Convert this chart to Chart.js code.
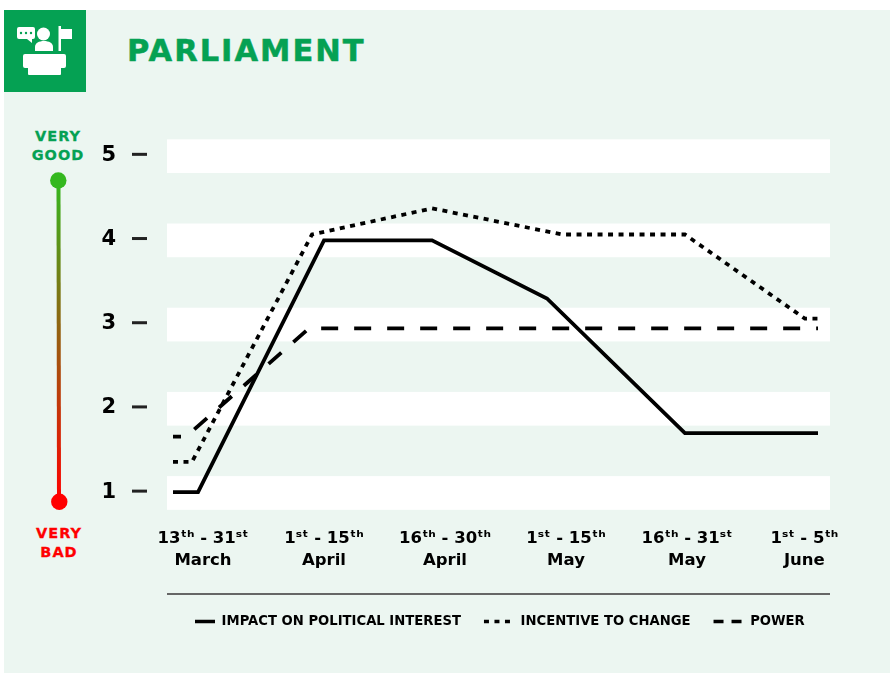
<!DOCTYPE html>
<html>
<head>
<meta charset="utf-8">
<title>Parliament</title>
<script src="https://cdn.jsdelivr.net/npm/chart.js@4"></script>
<style>
  html, body { margin: 0; background: #fff; }
  #page { position: relative; width: 890px; height: 673px; overflow: hidden; font-family: "DejaVu Sans", sans-serif; }
  #panel { position: absolute; left: 4px; top: 10px; right: 0; bottom: 0; background: #ecf6f1; }
  #decor { position: absolute; left: 0; top: 0; }
  #chart { position: absolute; left: 0; top: 0; }
  h1 { position: absolute; left: 127px; top: 33px; margin: 0; font-size: 30.5px; line-height: 36px; letter-spacing: 2px; color: #05a153; -webkit-text-stroke: 0.5px #05a153; }
  .end { position: absolute; width: 80px; text-align: center; font-weight: bold; font-size: 14.5px; line-height: 19px; letter-spacing: 1px; -webkit-text-stroke: 0.3px currentColor; }
</style>
</head>
<body>
<div id="page">
  <div id="panel"></div>
  <svg id="decor" width="890" height="673">
    <defs>
      <linearGradient id="scaleLine" x1="0" y1="180" x2="0" y2="501" gradientUnits="userSpaceOnUse">
        <stop offset="0" stop-color="#34b81f"/>
        <stop offset="1" stop-color="#ff0000"/>
      </linearGradient>
    </defs>
    <!-- speaker at a podium -->
    <rect x="4" y="10" width="82" height="82" fill="#05a153"/>
    <g fill="#fff">
      <path d="M19 27h14a2 2 0 0 1 2 2v8a2 2 0 0 1-2 2h-1v4l-5-4h-8a2 2 0 0 1-2-2v-8a2 2 0 0 1 2-2z"/>
      <circle cx="43.5" cy="34" r="6.5"/>
      <path d="M35 51v-4c0-4 4-6 9-6s9 2 9 6v4z"/>
      <rect x="58.5" y="26" width="2.5" height="25"/>
      <path d="M61 29h11v10h-11z"/>
      <rect x="23" y="54" width="43" height="14" rx="2"/>
      <rect x="28" y="67" width="33" height="8" rx="1"/>
    </g>
    <g fill="#05a153">
      <circle cx="21" cy="33" r="1.2"/><circle cx="26" cy="33" r="1.2"/><circle cx="31" cy="33" r="1.2"/>
    </g>
    <!-- very good / very bad scale -->
    <path d="M58.5 180L59 501" stroke="url(#scaleLine)" stroke-width="4" fill="none"/>
    <circle cx="58.3" cy="180.5" r="8.2" fill="#34b81f"/>
    <circle cx="59.3" cy="501.7" r="8.2" fill="#ff0000"/>
    <!-- legend rule -->
    <rect x="167" y="593" width="663" height="2" fill="#666"/>
  </svg>
  <h1>PARLIAMENT</h1>
  <div class="end" style="left:18px; top:127px; color:#05a153">VERY<br>GOOD</div>
  <div class="end" style="left:19px; top:524px; color:#ff0000">VERY<br>BAD</div>
  <canvas id="chart" width="890" height="673"></canvas>
</div>
<script>
// x runs in period slots: 0 is the first date range, 1 the next, and so on
const periodLabels = [
    ['13ᵗʰ - 31ˢᵗ', 'March'],
    ['1ˢᵗ - 15ᵗʰ', 'April'],
    ['16ᵗʰ - 30ᵗʰ', 'April'],
    ['1ˢᵗ - 15ᵗʰ', 'May'],
    ['16ᵗʰ - 31ˢᵗ', 'May'],
    ['1ˢᵗ - 5ᵗʰ', 'June']
];
const periodSlots = [0, 1, 2, 3, 4, 4.97];
const scoreTicks = [1, 2, 3, 4, 5];

const impactX = [-0.248, -0.041, 1, 1.893, 2.843, 3.983, 5.083];
const impactY = [1, 1, 3.99, 3.99, 3.3, 1.7, 1.7];

const incentiveX = [-0.248, -0.091, 0.901, 1.893, 2.967, 3.983, 4.975, 5.083];
const incentiveY = [1.36, 1.36, 4.06, 4.37, 4.06, 4.06, 3.06, 3.06];

const powerX = [-0.248, -0.14, 0.876, 5.083];
const powerY = [1.66, 1.66, 2.945, 2.945];

const bandFrom = [0.79, 1.79, 2.79, 3.79, 4.79];
const bandTo = [1.19, 2.19, 3.19, 4.19, 5.19];

const seriesNames = ['IMPACT ON POLITICAL INTEREST', 'INCENTIVE TO CHANGE', 'POWER'];
const legendDashes = [[20, 100], [5, 5.5], [10, 8, 10, 100]];
const legendDashOffsets = [-10, 0, 0];

function toPoints(xs, ys) {
    return xs.map((x, i) => ({ x: x, y: ys[i] }));
}

const whiteBands = {
    id: 'whiteBands',
    // score labels are clipped to the axis box, so widen it past the layout padding
    afterLayout(chart) {
        chart.scales.y.left = 0;
    },
    beforeDatasetsDraw(chart) {
        const { ctx, chartArea, scales } = chart;
        ctx.save();
        ctx.fillStyle = '#fff';
        bandFrom.forEach((from, i) => {
            const top = scales.y.getPixelForValue(bandTo[i]);
            const bottom = scales.y.getPixelForValue(from);
            ctx.fillRect(chartArea.left, top, chartArea.width, bottom - top);
        });
        ctx.restore();
    }
};

// short dashes between the score labels and the bands
const scoreDashes = {
    id: 'scoreDashes',
    afterDraw(chart) {
        const { ctx, chartArea, scales } = chart;
        ctx.save();
        ctx.fillStyle = '#222';
        scoreTicks.forEach(v => {
            const y = scales.y.getPixelForValue(v);
            ctx.fillRect(chartArea.left - 35, y - 2.5, 15, 3);
        });
        ctx.restore();
    }
};

const lineStyle = { borderColor: '#000', borderWidth: 3.8, pointRadius: 0, tension: 0, borderJoinStyle: 'miter' };

new Chart(document.getElementById('chart'), {
    type: 'line',
    data: {
        datasets: [
            { ...lineStyle, label: seriesNames[0], data: toPoints(impactX, impactY) },
            { ...lineStyle, label: seriesNames[1], data: toPoints(incentiveX, incentiveY), borderDash: [5, 5.5] },
            { ...lineStyle, label: seriesNames[2], data: toPoints(powerX, powerY), borderDash: [17, 16], borderDashOffset: 9 }
        ]
    },
    options: {
        responsive: false,
        animation: false,
        // the left padding also sets where the legend row starts
        layout: { padding: { top: 139, right: 60, bottom: 35, left: 162 } },
        scales: {
            x: {
                type: 'linear',
                min: -0.2975,
                max: 5.182,
                afterFit(scale) { scale.height = 82; },
                afterBuildTicks(scale) { scale.ticks = periodSlots.map(v => ({ value: v })); },
                grid: { display: false },
                border: { display: false },
                ticks: {
                    autoSkip: false,
                    maxRotation: 0,
                    padding: 10,
                    color: '#000',
                    font: { family: 'DejaVu Sans', weight: 'bold', size: 16.5, lineHeight: 1.35 },
                    callback: (value, i) => periodLabels[i]
                }
            },
            y: {
                min: 0.79,
                max: 5.194,
                afterFit(scale) { scale.width = 5; },
                afterBuildTicks(scale) { scale.ticks = scoreTicks.map(v => ({ value: v })); },
                grid: { display: false, drawTicks: false },
                border: { display: false },
                ticks: {
                    padding: 51,
                    color: '#000',
                    font: { family: 'DejaVu Sans', weight: 'bold', size: 21 }
                }
            }
        },
        plugins: {
            title: { display: false },
            tooltip: { enabled: false },
            legend: {
                position: 'bottom',
                align: 'start',
                labels: {
                    usePointStyle: true,
                    pointStyle: 'line',
                    pointStyleWidth: 30,
                    padding: 23,
                    color: '#000',
                    font: { family: 'DejaVu Sans', weight: 'bold', size: 13.2 },
                    generateLabels: chart => chart.data.datasets.map((ds, i) => ({
                        text: ds.label,
                        datasetIndex: i,
                        pointStyle: 'line',
                        strokeStyle: '#000',
                        fontColor: '#000',
                        lineWidth: 3.5,
                        lineDash: legendDashes[i],
                        lineDashOffset: legendDashOffsets[i]
                    }))
                }
            }
        }
    },
    plugins: [whiteBands, scoreDashes]
});
</script>
</body>
</html>
